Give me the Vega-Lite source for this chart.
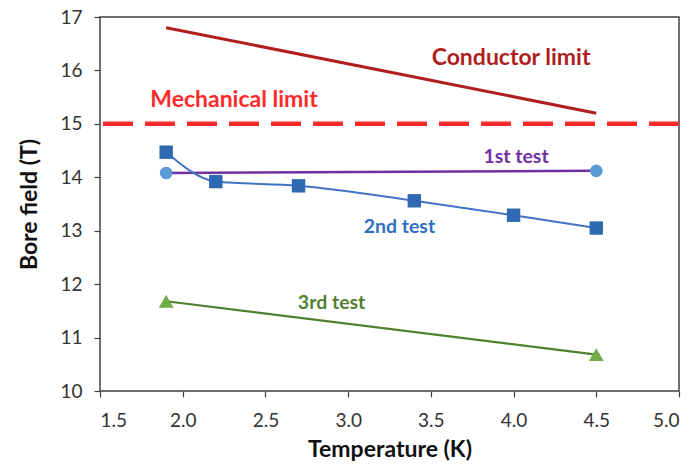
{
  "$schema": "https://vega.github.io/schema/vega-lite/v6.json",
  "width": 579,
  "height": 374,
  "autosize": {"type": "none"},
  "padding": {"left": 100, "top": 17, "right": 14, "bottom": 75},
  "background": "white",
  "config": {
    "font": "Lato",
    "view": {"stroke": "#404040", "strokeWidth": 1.5},
    "axis": {
      "grid": false,
      "domain": false,
      "tickColor": "#404040",
      "tickSize": 6,
      "tickWidth": 1.2,
      "labelFont": "Lato",
      "labelFontSize": 19,
      "labelColor": "#333333",
      "titleFont": "Lato",
      "titleFontSize": 23,
      "titleFontWeight": "bold",
      "titleColor": "#111111"
    }
  },
  "datasets": {
    "tests": [
      {"series": "1st test", "T": 1.9, "B": 14.08},
      {"series": "1st test", "T": 4.5, "B": 14.12},
      {"series": "2nd test", "T": 1.9, "B": 14.47},
      {"series": "2nd test", "T": 2.2, "B": 13.92},
      {"series": "2nd test", "T": 2.7, "B": 13.84},
      {"series": "2nd test", "T": 3.4, "B": 13.56},
      {"series": "2nd test", "T": 4.0, "B": 13.29},
      {"series": "2nd test", "T": 4.5, "B": 13.05},
      {"series": "3rd test", "T": 1.9, "B": 11.68},
      {"series": "3rd test", "T": 4.5, "B": 10.68},
      {"series": "Conductor limit", "T": 1.9, "B": 16.8},
      {"series": "Conductor limit", "T": 4.5, "B": 15.2}
    ],
    "labels": [
      {"series": "Conductor limit", "T": 3.985, "B": 16.24},
      {"series": "Mechanical limit", "T": 2.31, "B": 15.45},
      {"series": "1st test", "T": 4.015, "B": 14.38},
      {"series": "2nd test", "T": 3.31, "B": 13.07},
      {"series": "3rd test", "T": 2.9, "B": 11.65}
    ],
    "mech": [{"series": "Mechanical limit", "B": 15}]
  },
  "encoding": {
    "x": {"field": "T", "type": "quantitative", "scale": {"domain": [1.5, 5.0], "nice": false, "zero": false},
          "axis": {"title": "Temperature (K)", "values": [1.5, 2.0, 2.5, 3.0, 3.5, 4.0, 4.5, 5.0], "format": ".1f", "labelPadding": 14, "titlePadding": 8}},
    "y": {"field": "B", "type": "quantitative", "scale": {"domain": [10, 17], "nice": false, "zero": false},
          "axis": {"title": "Bore field (T)", "values": [10, 11, 12, 13, 14, 15, 16, 17], "labelPadding": 12, "titlePadding": 18}},
    "color": {"field": "series", "type": "nominal", "legend": null,
              "scale": {"domain": ["Conductor limit", "Mechanical limit", "1st test", "2nd test", "3rd test"],
                        "range": ["#B01E1E", "#FF2A2A", "#7030A0", "#2E6FBF", "#4F7F2F"]}}
  },
  "layer": [
    {
      "data": {"name": "mech"},
      "mark": {"type": "rule", "strokeWidth": 4.5, "strokeDash": [30, 12]},
      "encoding": {"x": null}
    },
    {
      "data": {"name": "tests"},
      "transform": [{"filter": "datum.series == 'Conductor limit'"}],
      "mark": {"type": "line", "strokeWidth": 3}
    },
    {
      "data": {"name": "tests"},
      "transform": [{"filter": "datum.series == '1st test'"}],
      "mark": {"type": "line", "strokeWidth": 2.5}
    },
    {
      "data": {"name": "tests"},
      "transform": [{"filter": "datum.series == '2nd test'"}],
      "mark": {"type": "line", "strokeWidth": 2, "interpolate": "monotone", "color": "#4472C4"},
      "encoding": {"color": null}
    },
    {
      "data": {"name": "tests"},
      "transform": [{"filter": "datum.series == '3rd test'"}],
      "mark": {"type": "line", "strokeWidth": 2.2}
    },
    {
      "data": {"name": "tests"},
      "transform": [{"filter": "datum.series == '1st test'"}],
      "mark": {"type": "point", "shape": "circle", "filled": true, "size": 160, "color": "#5B9BD5", "opacity": 1},
      "encoding": {"color": null}
    },
    {
      "data": {"name": "tests"},
      "transform": [{"filter": "datum.series == '2nd test'"}],
      "mark": {"type": "point", "shape": "square", "filled": true, "size": 180, "color": "#2E69B2", "opacity": 1},
      "encoding": {"color": null}
    },
    {
      "data": {"name": "tests"},
      "transform": [{"filter": "datum.series == '3rd test'"}],
      "mark": {"type": "point", "shape": "triangle-up", "filled": true, "size": 220, "color": "#70AD47", "opacity": 1},
      "encoding": {"color": null}
    },
    {
      "data": {"name": "labels"},
      "transform": [{"filter": "datum.series == 'Conductor limit' || datum.series == 'Mechanical limit'"}],
      "mark": {"type": "text", "fontSize": 23, "fontWeight": "bold", "font": "Lato"},
      "encoding": {"text": {"field": "series"}}
    },
    {
      "data": {"name": "labels"},
      "transform": [{"filter": "datum.series != 'Conductor limit' && datum.series != 'Mechanical limit'"}],
      "mark": {"type": "text", "fontSize": 19.5, "fontWeight": "bold", "font": "Lato"},
      "encoding": {"text": {"field": "series"}}
    }
  ]
}
